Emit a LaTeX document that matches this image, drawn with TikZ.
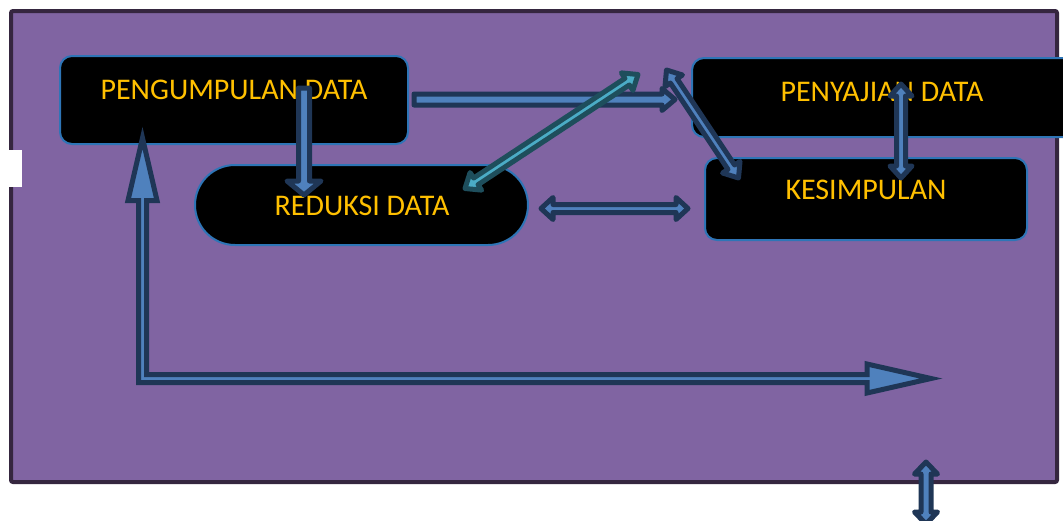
\documentclass[tikz,border=0pt]{standalone}
\usepackage{fontspec}
\setmainfont{Carlito}
\usetikzlibrary{calc}
\definecolor{bgpurple}{HTML}{8064A2}
\definecolor{framecol}{HTML}{35263F}
\definecolor{boxline}{HTML}{2E75B6}
\definecolor{txtcol}{HTML}{FFC000}
\definecolor{navy}{HTML}{1F3656}
\definecolor{ablue}{HTML}{4F81BD}
\definecolor{tealdark}{HTML}{1E4E5C}
\definecolor{tealfill}{HTML}{4BACC6}

% double-headed block arrow: start, end, shaft half width, head half width, head length, style
\newcommand\dblblockarrow[6]{%
  \coordinate (baone) at ($(#1)!#5!(#2)$);
  \coordinate (batwo) at ($(#2)!#5!(#1)$);
  \path[#6] (#1) -- ($(baone)!#4!90:(#2)$) -- ($(baone)!#3!90:(#2)$)
    -- ($(batwo)!#3!-90:(#1)$) -- ($(batwo)!#4!-90:(#1)$) -- (#2)
    -- ($(batwo)!#4!90:(#1)$) -- ($(batwo)!#3!90:(#1)$)
    -- ($(baone)!#3!-90:(#2)$) -- ($(baone)!#4!-90:(#2)$) -- cycle;
}
% single-headed block arrow
\newcommand\sglblockarrow[6]{%
  \coordinate (batwo) at ($(#2)!#5!(#1)$);
  \path[#6] ($(#1)!#3!90:(#2)$) -- ($(batwo)!#3!-90:(#1)$) -- ($(batwo)!#4!-90:(#1)$)
    -- (#2) -- ($(batwo)!#4!90:(#1)$) -- ($(batwo)!#3!90:(#1)$)
    -- ($(#1)!#3!-90:(#2)$) -- cycle;
}

\tikzset{
  box/.style={draw=boxline, line width=2pt, fill=black, rounded corners=12pt,
    inner sep=0pt, rectangle},
  lbl/.style={text=txtcol, font=\fontsize{30}{36}\selectfont, inner sep=0pt, anchor=base},
  bluearrow/.style={draw=navy, fill=ablue, line width=5pt, line join=round},
  bluearrowsharp/.style={draw=navy, fill=ablue, line width=5pt, line join=miter},
  tealarrow/.style={draw=tealdark, fill=tealfill, line width=5pt, line join=round},
}

\begin{document}
\begin{tikzpicture}[x=1pt, y=-1pt]
\useasboundingbox (0,0) rectangle (1063,520);
\fill[white] (0,0) rectangle (1063,520);
\clip (0,0) rectangle (1063,520);

% frame
\path[draw=framecol, fill=bgpurple, line width=4pt, rounded corners=2pt] (11,11) rectangle (1057,482);
\fill[white] (0,150) rectangle (22,187);

% boxes
\node[box, minimum width=348pt, minimum height=88pt] (peng) at (234,100) {};
\node[box, minimum width=333pt, minimum height=80pt, rounded corners=40pt] (redu) at (361.5,205) {};
\node[box, minimum width=398pt, minimum height=79pt] (peny) at (891,97.5) {};
\node[box, minimum width=322pt, minimum height=82pt] (kesi) at (866,199) {};

% labels
\node[lbl] (tpeng) at (234,99.5) {PENGUMPULAN DATA};
\node[lbl] (tredu) at (362,215.5) {REDUKSI DATA};
\node[lbl] (tpeny) at (882,101.5) {PENYAJIAN DATA};
\node[lbl] (tkesi) at (866,199.5) {KESIMPULAN};

% arrow end points
\coordinate (aS) at (414,99.5);   \coordinate (aE) at (675,99.5);
\coordinate (bS) at (304,88);     \coordinate (bE) at (304,195);
\coordinate (cS) at (465,188.5);  \coordinate (cE) at (638,74.5);
\coordinate (dS) at (666.5,70);   \coordinate (dE) at (738.5,178);
\coordinate (eS) at (541,208.5);  \coordinate (eE) at (688,208.5);
\coordinate (fS) at (901,84);     \coordinate (fE) at (901,178);
\coordinate (hS) at (926,462);    \coordinate (hE) at (926,524);

% arrows
\sglblockarrow{aS}{aE}{5.5pt}{11pt}{13pt}{bluearrow}
\sglblockarrow{bS}{bE}{5.5pt}{17pt}{14pt}{bluearrow}
\dblblockarrow{cS}{cE}{4pt}{10.5pt}{13pt}{tealarrow}
\dblblockarrow{dS}{dE}{4pt}{10.5pt}{13pt}{bluearrow}
\dblblockarrow{eS}{eE}{4pt}{11pt}{12pt}{bluearrow}
\dblblockarrow{fS}{fE}{4.5pt}{11pt}{12pt}{bluearrow}
\dblblockarrow{hS}{hE}{5pt}{11.5pt}{12pt}{bluearrow}

% L-shaped feedback arrow
\coordinate (gtip) at (142.5,138);
\coordinate (gcorner) at (142.5,378.5);
\coordinate (gend) at (931,378.5);
\path[bluearrowsharp] (gtip) -- (157,200.5) -- (146.5,200.5) -- (146.5,374.5) -- (867,374.5)
  -- (867,364) -- (gend) -- (867,393) -- (867,382.5) -- (138.5,382.5) -- (138.5,200.5)
  -- (128,200.5) -- cycle;
\end{tikzpicture}
\end{document}
